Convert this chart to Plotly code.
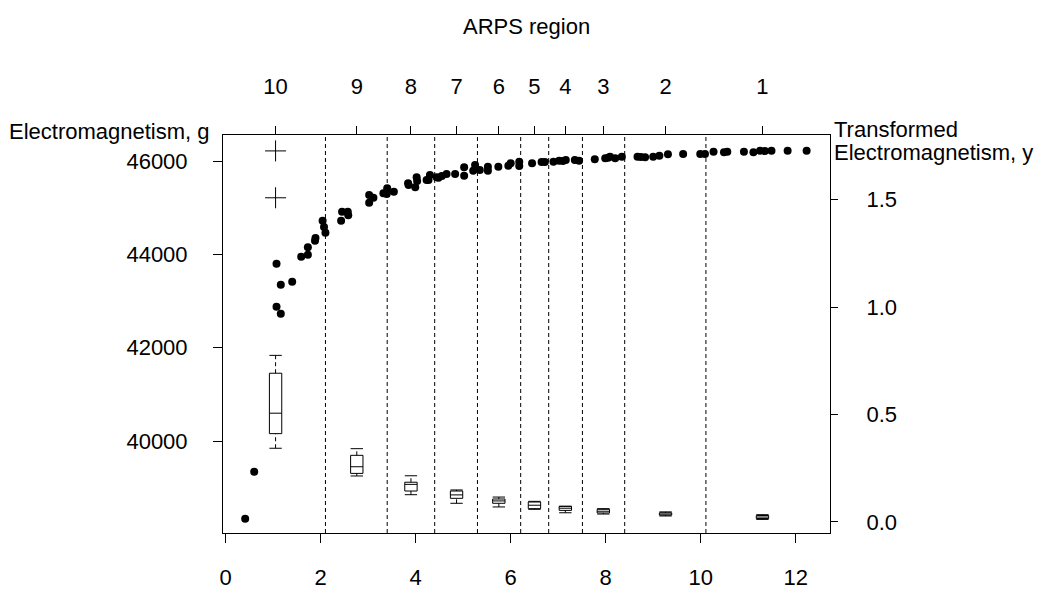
import plotly.graph_objects as go

# ---------------- data ----------------
# observed electromagnetism g (left axis) against distance (bottom axis)
obs_x = [0.41, 0.60, 1.07, 1.16, 1.40, 1.07, 1.16, 1.59, 1.73, 1.73, 1.88, 1.89,
         2.04, 2.07, 2.10,
         2.43, 2.45, 2.57, 2.58, 3.02, 3.02, 3.11, 3.32, 3.39, 3.40,
         3.54, 3.84, 3.85, 3.99, 4.02, 4.03, 4.23, 4.27, 4.30,
         4.44, 4.48, 4.55, 4.65, 4.83, 5.02, 5.02, 5.21, 5.25,
         5.35, 5.52, 5.52, 5.74, 5.95, 6.00, 6.18, 6.18,
         6.45, 6.65, 6.72,
         6.90, 7.02, 7.10, 7.16, 7.35, 7.44,
         7.77, 7.99, 8.05, 8.09, 8.20, 8.34,
         8.67, 8.74, 8.83, 9.00, 9.13, 9.31, 9.63, 9.99, 10.09,
         10.27, 10.49, 10.56, 10.91, 11.11, 11.25, 11.35, 11.49, 11.83, 12.23]
obs_g = [38336, 39343, 43800, 43350, 43414, 42878, 42728, 43950, 43992, 44150, 44293, 44350,
         44721, 44586, 44464,
         44721, 44914, 44914, 44836, 45107, 45271, 45214, 45307, 45293, 45414,
         45343, 45521, 45486, 45436, 45650, 45571, 45593, 45593, 45700,
         45650, 45643, 45679, 45721, 45721, 45864, 45686, 45793, 45914,
         45807, 45879, 45793, 45879, 45900, 45950, 45986, 45893,
         45950, 45979, 45979,
         45986, 46007, 46000, 46021, 46021, 46007,
         46036, 46057, 46070, 46093, 46057, 46093,
         46093, 46086, 46079, 46093, 46114, 46143, 46150, 46150, 46150,
         46200, 46186, 46200, 46200, 46186, 46221, 46214, 46221, 46221, 46221]

# ARPS regions (top axis) and boundaries between them
region_labels = ["10", "9", "8", "7", "6", "5", "4", "3", "2", "1"]
region_centers = [1.05, 2.76, 3.90, 4.86, 5.75, 6.50, 7.15, 7.95, 9.26, 11.30]
region_bounds = [2.10, 3.40, 4.40, 5.30, 6.21, 6.80, 7.51, 8.40, 10.11]

# boxplots of transformed electromagnetism y (right axis), one per region
box_lower = [0.343, 0.214, 0.127, 0.087, 0.070, 0.059, 0.043, 0.037, 0.028, 0.012]
box_q1 = [0.411, 0.226, 0.144, 0.110, 0.087, 0.062, 0.054, 0.042, 0.032, 0.016]
box_median = [0.506, 0.257, 0.175, 0.126, 0.098, 0.078, 0.064, 0.050, 0.037, 0.023]
box_q3 = [0.692, 0.310, 0.185, 0.144, 0.107, 0.093, 0.073, 0.059, 0.043, 0.030]
box_upper = [0.775, 0.341, 0.215, 0.149, 0.116, 0.096, 0.073, 0.062, 0.047, 0.034]
outlier_x = [1.05, 1.05]
outlier_y = [1.726, 1.508]

bottom_ticks = [0, 2, 4, 6, 8, 10, 12]
left_ticks = [40000, 42000, 44000, 46000]
right_ticks = [0.0, 0.5, 1.0, 1.5]

# ---------------- figure ----------------
FONT = "Liberation Sans, Arial, sans-serif"
FS = 22
X_RANGE = [-0.0568, 12.722]
BOX_W = 0.26

fig = go.Figure()

fig.add_trace(go.Scatter(
    x=obs_x, y=obs_g, mode="markers",
    marker=dict(color="black", size=8, line=dict(width=0)),
    xaxis="x", yaxis="y", showlegend=False, hoverinfo="x+y",
))

# dashed whiskers (R style) and solid staples
wx, wy, cx, cy = [], [], [], []
for c, lo, q1, q3, hi in zip(region_centers, box_lower, box_q1, box_q3, box_upper):
    wx += [c, c, None, c, c, None]
    wy += [q3, hi, None, lo, q1, None]
    cx += [c - BOX_W / 2, c + BOX_W / 2, None, c - BOX_W / 2, c + BOX_W / 2, None]
    cy += [hi, hi, None, lo, lo, None]

fig.add_trace(go.Scatter(
    x=wx, y=wy, mode="lines", line=dict(color="black", width=1, dash="4px,3px"),
    xaxis="x2", yaxis="y2", showlegend=False, hoverinfo="skip",
))
fig.add_trace(go.Scatter(
    x=cx, y=cy, mode="lines", line=dict(color="black", width=1),
    xaxis="x2", yaxis="y2", showlegend=False, hoverinfo="skip",
))

fig.add_trace(go.Box(
    x=region_centers, q1=box_q1, median=box_median, q3=box_q3,
    lowerfence=box_q1, upperfence=box_q3,
    width=BOX_W, whiskerwidth=0, boxpoints=False,
    fillcolor="white", line=dict(color="black", width=1),
    xaxis="x2", yaxis="y2", showlegend=False,
))

fig.add_trace(go.Scatter(
    x=outlier_x, y=outlier_y, mode="markers",
    marker=dict(symbol="cross-thin", size=15, line=dict(color="black", width=1)),
    xaxis="x2", yaxis="y2", showlegend=False,
))

for b in region_bounds:
    fig.add_shape(type="line", xref="x", yref="paper", x0=b, x1=b, y0=0, y1=1,
                  line=dict(color="black", width=1, dash="4px,3px"), layer="below")

axis_common = dict(showgrid=False, zeroline=False, showline=True, linecolor="black",
                   linewidth=1, ticks="outside", tickcolor="black", tickwidth=1,
                   automargin=False,
                   tickfont=dict(family=FONT, size=FS, color="black"))

# the page body adds an 8px offset; the figure size/margins compensate for it
fig.update_layout(
    width=1035, height=587,
    margin=dict(l=215, r=213, t=127, b=62, autoexpand=False),
    paper_bgcolor="white", plot_bgcolor="white",
    font=dict(family=FONT, size=FS, color="black"),
    xaxis=dict(range=X_RANGE, tickvals=bottom_ticks, ticklen=9, mirror=True,
               ticklabelstandoff=16, **axis_common),
    xaxis2=dict(range=X_RANGE, overlaying="x", side="top", tickvals=region_centers,
                ticktext=region_labels, ticklen=8, ticklabelstandoff=23, **axis_common),
    yaxis=dict(range=[38028.6, 46557.1], tickvals=left_ticks, tickformat="d",
               ticklen=9, mirror=True, ticklabelstandoff=21, **axis_common),
    yaxis2=dict(range=[-0.0512, 1.8], overlaying="y", side="right", anchor="x",
                tickvals=right_ticks, tickformat=".1f", ticklen=7,
                ticklabelstandoff=24, **axis_common),
    annotations=[
        dict(text="ARPS region", x=0.5, y=1.2714, xref="paper", yref="paper",
             showarrow=False, xanchor="center", yanchor="middle"),
        dict(text="Electromagnetism, g", x=-0.018, y=1.010, xref="paper", yref="paper",
             showarrow=False, xanchor="right", yanchor="middle"),
        dict(text="Transformed", x=1.0033, y=1.015, xref="paper", yref="paper",
             showarrow=False, xanchor="left", yanchor="middle"),
        dict(text="Electromagnetism, y", x=1.0033, y=0.9548, xref="paper", yref="paper",
             showarrow=False, xanchor="left", yanchor="middle"),
    ],
)

fig.write_html("out.html")
